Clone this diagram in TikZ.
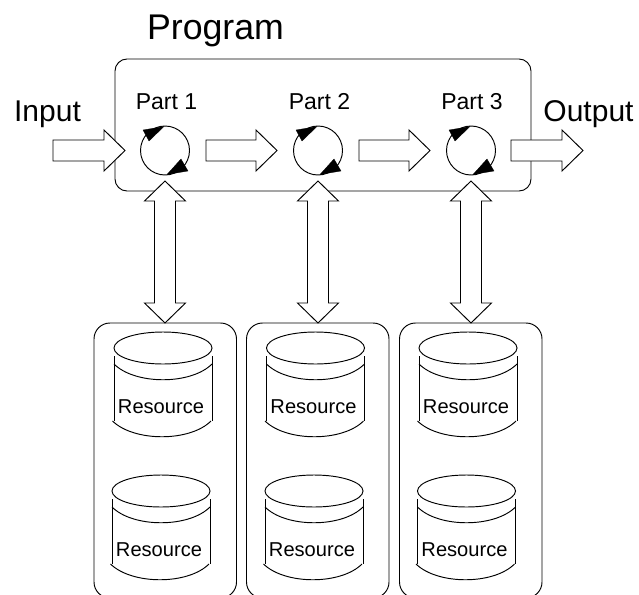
\documentclass[tikz,border=0pt]{standalone}
\usepackage{fontspec}
\setmainfont{Liberation Sans}
\usetikzlibrary{calc,shapes.geometric}
\tikzset{
  ln/.style={draw=black,line width=0.95pt,line join=miter},
  blockarrow/.style={ln,fill=white},
  box/.style={ln,rounded corners=12pt},
  tip/.style={fill=black,draw=black,line width=0.3pt},
  lbl/.style={inner sep=0pt,text=black,anchor=center},
}
% horizontal block arrow: tail x, tip x, y
\newcommand{\HArrow}[3]{%
  \path[blockarrow] (#1,#3-10.5) -- (#2-21,#3-10.5) -- (#2-21,#3-20.5) -- (#2,#3) -- (#2-21,#3+20.5) -- (#2-21,#3+10.5) -- (#1,#3+10.5) -- cycle;}
% vertical double block arrow: centre x
\newcommand{\VArrow}[1]{%
  \path[blockarrow] (#1,181) -- (#1+20.5,201) -- (#1+10.5,201) -- (#1+10.5,303) -- (#1+20.5,303) -- (#1,323) -- (#1-20.5,303) -- (#1-10.5,303) -- (#1-10.5,201) -- (#1-20.5,201) -- cycle;}
% rotating part: circle with two heads
\newcommand{\Rotor}[2]{%
  \node[ln,circle,minimum size=49pt,inner sep=0pt] (#2) at (#1,150.5) {};
  \path[tip] (#1-1,126.5) -- (#1-22,130) -- (#1-16,141) -- cycle;
  \path[tip] (#1+2,174.5) -- (#1+23,171) -- (#1+16,159) -- cycle;}
% cylinder: centre x, centre y of top ellipse, node name
\newcommand{\Cyl}[3]{%
  \node[ln,ellipse,inner sep=0pt,minimum width=98pt,minimum height=32pt] (#3) at (#1,#2) {};
  \draw[ln] (#1-49,#2+8) -- (#1-49,#2+73);
  \draw[ln] (#1+49,#2+8) -- (#1+49,#2+73);
  \draw[ln] (#1-49,#2+16) .. controls (#1-28,#2+37) and (#1+28,#2+37) .. (#1+49,#2+16);
  \draw[ln] (#1-50.5,#2+73) .. controls (#1-29,#2+94) and (#1+27,#2+94) .. (#1+48,#2+73);
  \node[lbl,font=\fontsize{20.1pt}{24pt}\selectfont] (#3t) at (#1-2,#2+58.5) {Resource};}
\begin{document}
\begin{tikzpicture}[x=1pt,y=-1pt]
\useasboundingbox (0,0) rectangle (639,594);
\clip (0,0) rectangle (639,594);
\path[box] (115,59) rectangle (531,191);
\node[lbl,font=\fontsize{35.7pt}{40pt}\selectfont] (program) at (215.5,31) {Program};
\node[lbl,font=\fontsize{30pt}{34pt}\selectfont] (input) at (47.5,114) {Input};
\node[lbl,font=\fontsize{30pt}{34pt}\selectfont] (output) at (588.5,114) {Output};
\node[lbl,font=\fontsize{23pt}{26pt}\selectfont] (p1) at (166.5,101.5) {Part 1};
\node[lbl,font=\fontsize{23pt}{26pt}\selectfont] (p2) at (319.5,101.5) {Part 2};
\node[lbl,font=\fontsize{23pt}{26pt}\selectfont] (p3) at (472,101.5) {Part 3};
\path[box,rounded corners=16pt] (94,323) rectangle (236.5,598);
\path[box,rounded corners=16pt] (246.5,323) rectangle (389,598);
\path[box,rounded corners=16pt] (399.5,323) rectangle (542,598);
\Rotor{165}{r1}
\Rotor{318}{r2}
\Rotor{471}{r3}
\HArrow{53}{125}{150.5}
\HArrow{206}{277}{150.5}
\HArrow{359}{430}{150.5}
\HArrow{511}{583}{150.5}
\VArrow{165}
\VArrow{318}
\VArrow{471}
\Cyl{163}{348}{c1}
\Cyl{161}{491}{d1}
\Cyl{315.5}{348}{c2}
\Cyl{314}{491}{d2}
\Cyl{468}{348}{c3}
\Cyl{466.5}{491}{d3}
\end{tikzpicture}
\end{document}
